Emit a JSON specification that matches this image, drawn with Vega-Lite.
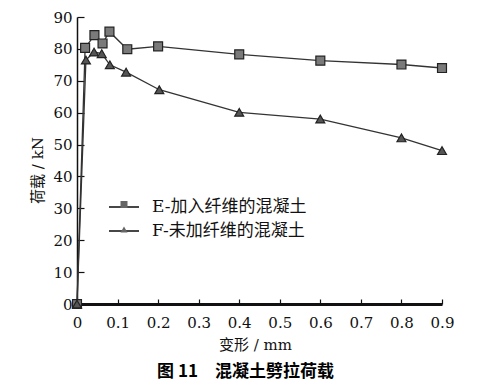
{
  "$schema": "https://vega.github.io/schema/vega-lite/v6.json",
  "width": 365,
  "height": 287,
  "autosize": "none",
  "padding": {"left": 77, "top": 17, "right": 40, "bottom": 84},
  "background": "white",
  "config": {"view": {"stroke": null}},
  "title": {
    "text": "图 11　混凝土劈拉荷载",
    "orient": "bottom",
    "anchor": "middle",
    "font": "Noto Sans CJK SC",
    "fontSize": 17,
    "fontWeight": "bold",
    "color": "#000",
    "dx": -14,
    "offset": 12
  },
  "data": {
    "values": [
      {"s": "E-加入纤维的混凝土", "x": 0, "y": 0},
      {"s": "E-加入纤维的混凝土", "x": 0.02, "y": 80.3},
      {"s": "E-加入纤维的混凝土", "x": 0.043, "y": 84.3},
      {"s": "E-加入纤维的混凝土", "x": 0.063, "y": 81.7},
      {"s": "E-加入纤维的混凝土", "x": 0.08, "y": 85.4},
      {"s": "E-加入纤维的混凝土", "x": 0.124, "y": 79.9},
      {"s": "E-加入纤维的混凝土", "x": 0.2, "y": 80.8},
      {"s": "E-加入纤维的混凝土", "x": 0.4, "y": 78.3},
      {"s": "E-加入纤维的混凝土", "x": 0.6, "y": 76.3},
      {"s": "E-加入纤维的混凝土", "x": 0.8, "y": 75.1},
      {"s": "E-加入纤维的混凝土", "x": 0.9, "y": 74.0},
      {"s": "F-未加纤维的混凝土", "x": 0, "y": 0},
      {"s": "F-未加纤维的混凝土", "x": 0.022, "y": 76.5},
      {"s": "F-未加纤维的混凝土", "x": 0.042, "y": 79.0},
      {"s": "F-未加纤维的混凝土", "x": 0.061, "y": 78.5},
      {"s": "F-未加纤维的混凝土", "x": 0.081, "y": 75.0},
      {"s": "F-未加纤维的混凝土", "x": 0.121, "y": 72.7},
      {"s": "F-未加纤维的混凝土", "x": 0.203, "y": 67.2},
      {"s": "F-未加纤维的混凝土", "x": 0.4, "y": 60.1},
      {"s": "F-未加纤维的混凝土", "x": 0.6, "y": 58.0},
      {"s": "F-未加纤维的混凝土", "x": 0.8, "y": 52.1},
      {"s": "F-未加纤维的混凝土", "x": 0.9, "y": 48.1}
    ]
  },
  "encoding": {
    "x": {
      "field": "x",
      "type": "quantitative",
      "scale": {"domain": [0, 0.9], "nice": false, "zero": false},
      "axis": {
        "title": "变形 / mm",
        "values": [0, 0.1, 0.2, 0.3, 0.4, 0.5, 0.6, 0.7, 0.8, 0.9],
        "format": "~g",
        "grid": false,
        "domainColor": "#111",
        "domainWidth": 3,
        "tickColor": "#111",
        "tickWidth": 1.2,
        "tickSize": -5,
        "labelPadding": 16,
        "labelFont": "DejaVu Serif",
        "labelFontSize": 15,
        "labelColor": "#111",
        "labelFlush": false,
        "titleFont": "DejaVu Serif, Noto Sans CJK SC",
        "titleFontSize": 15,
        "titleFontWeight": "normal",
        "titleColor": "#111",
        "titlePadding": 7,
        "titleX": 178
      }
    },
    "y": {
      "field": "y",
      "type": "quantitative",
      "scale": {"domain": [0, 90], "nice": false},
      "axis": {
        "title": "荷载 / kN",
        "values": [0, 10, 20, 30, 40, 50, 60, 70, 80, 90],
        "grid": false,
        "domainColor": "#111",
        "domainWidth": 1.5,
        "tickColor": "#111",
        "tickWidth": 1.2,
        "tickSize": -7,
        "labelPadding": 12,
        "labelOverlap": false,
        "labelFont": "DejaVu Serif",
        "labelFontSize": 15,
        "labelColor": "#111",
        "titleFont": "DejaVu Serif, Noto Sans CJK SC",
        "titleFontSize": 15,
        "titleFontWeight": "normal",
        "titleColor": "#111111",
        "titleX": -32,
        "titleY": 153
      }
    }
  },
  "layer": [
    {
      "mark": {"type": "line", "strokeWidth": 1.3},
      "encoding": {
        "stroke": {
          "field": "s",
          "type": "nominal",
          "scale": {"range": ["#333333", "#333333"]},
          "legend": {
            "orient": "none",
            "legendX": 31,
            "legendY": 174,
            "title": null,
            "symbolType": "stroke",
            "symbolSize": 900,
            "symbolStrokeWidth": 1.8,
            "symbolStrokeColor": "#222",
            "labelFont": "DejaVu Serif, Noto Sans CJK SC",
            "labelFontSize": 17,
            "labelColor": "#111",
            "labelOffset": 12,
            "rowPadding": -3
          }
        }
      }
    },
    {
      "transform": [{"filter": "indexof(datum.s, 'E') === 0"}],
      "mark": {"type": "point", "shape": "square", "filled": true, "size": 80, "fill": "#7a7a7a", "stroke": "#222", "strokeWidth": 1.2, "opacity": 1}
    },
    {
      "transform": [{"filter": "indexof(datum.s, 'F') === 0"}],
      "mark": {"type": "point", "shape": "triangle-up", "filled": true, "size": 80, "fill": "#555555", "stroke": "#222", "strokeWidth": 1.2, "opacity": 1}
    },
    {
      "transform": [{"filter": "false"}],
      "mark": {"type": "point", "filled": true, "fill": "#666666", "stroke": "#222", "opacity": 1},
      "encoding": {
        "shape": {
          "field": "s",
          "type": "nominal",
          "scale": {
            "domain": ["E-加入纤维的混凝土", "F-未加纤维的混凝土"],
            "range": ["square", "triangle-up"]
          },
          "legend": {
            "orient": "none",
            "legendX": 38.5,
            "legendY": 179,
            "title": null,
            "symbolSize": 49,
            "symbolFillColor": "#666666",
            "symbolStrokeColor": "#222",
            "symbolStrokeWidth": 1,
            "symbolOpacity": 1,
            "labelOpacity": 0,
            "labelExpr": "''",
            "labelFont": "DejaVu Serif, Noto Sans CJK SC",
            "labelFontSize": 17,
            "labelOffset": 12,
            "rowPadding": 7
          }
        }
      }
    }
  ]
}
